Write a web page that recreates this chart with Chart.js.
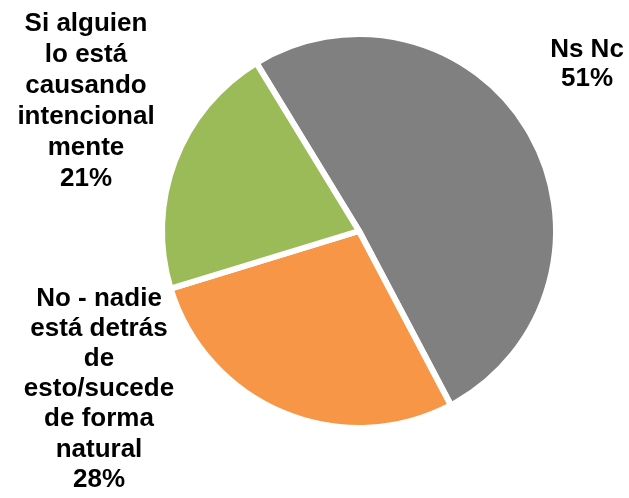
<!DOCTYPE html>
<html>
<head>
<meta charset="utf-8">
<script src="https://cdn.jsdelivr.net/npm/chart.js@4/dist/chart.umd.min.js"></script>
<style>
html,body{margin:0;padding:0;background:#fff;}
#wrap{width:629px;height:498px;position:relative;}
</style>
</head>
<body>
<div id="wrap"><canvas id="c" width="629" height="498"></canvas></div>
<script>
const categories = ["Ns Nc", "No - nadie está detrás de esto/sucede de forma natural", "Si alguien lo está causando intencionalmente"];
const values = [51, 28, 21];
const colors = ["#808080", "#F79646", "#9BBB59"];
const labelLines = [
  ["Ns Nc", "51%"],
  ["No - nadie", "está detrás", "de", "esto/sucede", "de forma", "natural", "28%"],
  ["Si alguien", "lo está", "causando", "intencional", "mente", "21%"]
];
// label anchor: center x, first baseline y, line step
const labelPos = [[587, 56.5, 29.5], [99, 305.5, 30.2], [86, 31, 31]];

const labelPlugin = {
  id: 'sliceLabels',
  afterDatasetsDraw(chart) {
    const ctx = chart.ctx;
    ctx.save();
    ctx.font = 'bold 26px "Liberation Sans", Arial, sans-serif';
    ctx.fillStyle = '#000';
    ctx.textAlign = 'center';
    ctx.textBaseline = 'alphabetic';
    labelLines.forEach((lines, i) => {
      const [x, y, step] = labelPos[i];
      lines.forEach((t, j) => ctx.fillText(t, x, y + j * step));
    });
    ctx.restore();
  }
};

new Chart(document.getElementById('c'), {
  type: 'pie',
  data: {
    labels: categories,
    datasets: [{
      data: values,
      backgroundColor: colors,
      borderColor: '#ffffff',
      borderWidth: 6,
      hoverOffset: 0
    }]
  },
  options: {
    responsive: false,
    animation: false,
    rotation: -31.4,
    radius: 197,
    layout: { padding: { left: 100, right: 11, top: 20, bottom: 56 } },
    plugins: {
      legend: { display: false },
      tooltip: { enabled: false }
    }
  },
  plugins: [labelPlugin]
});
</script>
</body>
</html>
